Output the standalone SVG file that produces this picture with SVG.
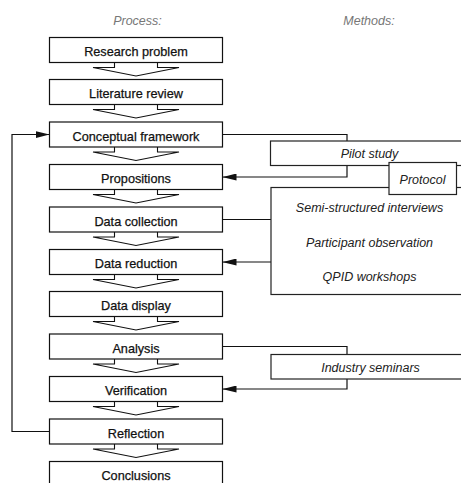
<svg xmlns="http://www.w3.org/2000/svg" width="461" height="483" viewBox="0 0 461 483">
<defs>
<style>
.box{fill:#fff;stroke:#111;stroke-width:1.2}
.mbox{fill:#fff;stroke:#222;stroke-width:1.2}
.t{font-family:"Liberation Sans",Arial,sans-serif;font-size:12.7px;fill:#111;stroke:#111;stroke-width:0.25;text-anchor:middle}
.m{font-family:"Liberation Sans",Arial,sans-serif;font-size:12.5px;font-style:italic;fill:#222;text-anchor:middle}
.h{font-family:"Liberation Sans",Arial,sans-serif;font-size:12.5px;font-style:italic;fill:#777;text-anchor:middle}
.c{fill:none;stroke:#111;stroke-width:1.2}
.fa{fill:none;stroke:#111;stroke-width:1.1;stroke-linejoin:miter}
</style>
<marker id="ah" viewBox="0 0 14 7" refX="14" refY="3.5" markerWidth="14" markerHeight="7" markerUnits="userSpaceOnUse" orient="auto">
<path d="M0,0 L14,3.5 L0,7 Z" fill="#111"/>
</marker>
</defs>
<rect width="461" height="483" fill="#fff"/>
<text class="h" x="137.5" y="25">Process:</text>
<text class="h" x="369" y="25">Methods:</text>

<g id="connectors">
<path class="fa" d="M114.5,62.5 V67.5 H93 L136,76 L179,67.5 H157.5 V62.5"/>
<path class="fa" d="M114.5,104.5 V109.5 H93 L136,118 L179,109.5 H157.5 V104.5"/>
<path class="fa" d="M114.5,147 V152 H93 L136,160.5 L179,152 H157.5 V147"/>
<path class="fa" d="M114.5,189.5 V194.5 H93 L136,203 L179,194.5 H157.5 V189.5"/>
<path class="fa" d="M114.5,232 V237 H93 L136,245.5 L179,237 H157.5 V232"/>
<path class="fa" d="M114.5,274.5 V279.5 H93 L136,288 L179,279.5 H157.5 V274.5"/>
<path class="fa" d="M114.5,316.5 V321.5 H93 L136,330 L179,321.5 H157.5 V316.5"/>
<path class="fa" d="M114.5,359 V364 H93 L136,372.5 L179,364 H157.5 V359"/>
<path class="fa" d="M114.5,401.5 V406.5 H93 L136,415 L179,406.5 H157.5 V401.5"/>
<path class="fa" d="M114.5,444 V449 H93 L136,457.5 L179,449 H157.5 V444"/>
<path class="c" d="M49.5,431.5 H12 V134.5 H49.5" marker-end="url(#ah)"/>
<path class="c" d="M222.5,134.5 H347 V141"/>
<path class="c" d="M347,165.5 V177 H222.5" marker-end="url(#ah)"/>
<path class="c" d="M222.5,219.5 H271"/>
<path class="c" d="M271,262 H222.5" marker-end="url(#ah)"/>
<path class="c" d="M222.5,346.5 H347 V354.5"/>
<path class="c" d="M347,379 V389 H222.5" marker-end="url(#ah)"/>
</g>

<g id="research-problem"><rect class="box" x="49.5" y="37.5" width="173" height="25"/><text class="t" x="136" y="56">Research problem</text></g>
<g id="literature-review"><rect class="box" x="49.5" y="79.5" width="173" height="25"/><text class="t" x="136" y="98">Literature review</text></g>
<g id="conceptual-framework"><rect class="box" x="49.5" y="122" width="173" height="25"/><text class="t" x="136" y="140.5">Conceptual framework</text></g>
<g id="propositions"><rect class="box" x="49.5" y="164.5" width="173" height="25"/><text class="t" x="136" y="183">Propositions</text></g>
<g id="data-collection"><rect class="box" x="49.5" y="207" width="173" height="25"/><text class="t" x="136" y="225.5">Data collection</text></g>
<g id="data-reduction"><rect class="box" x="49.5" y="249.5" width="173" height="25"/><text class="t" x="136" y="268">Data reduction</text></g>
<g id="data-display"><rect class="box" x="49.5" y="291.5" width="173" height="25"/><text class="t" x="136" y="310">Data display</text></g>
<g id="analysis"><rect class="box" x="49.5" y="334" width="173" height="25"/><text class="t" x="136" y="352.5">Analysis</text></g>
<g id="verification"><rect class="box" x="49.5" y="376.5" width="173" height="25"/><text class="t" x="136" y="395">Verification</text></g>
<g id="reflection"><rect class="box" x="49.5" y="419" width="173" height="25"/><text class="t" x="136" y="437.5">Reflection</text></g>
<g id="conclusions"><rect class="box" x="49.5" y="461.5" width="173" height="25"/><text class="t" x="136" y="480">Conclusions</text></g>

<g id="pilot-study"><rect class="mbox" x="270.5" y="141" width="200" height="24.5"/><text class="m" x="369.5" y="158">Pilot study</text></g>
<g id="methods"><rect class="mbox" x="271" y="187.5" width="200" height="107"/>
<text class="m" x="369.5" y="212">Semi-structured interviews</text>
<text class="m" x="369.5" y="246.5">Participant observation</text>
<text class="m" x="369.5" y="281">QPID workshops</text></g>
<g id="protocol"><rect class="mbox" x="389" y="162.5" width="67.5" height="32"/><text class="m" x="422.5" y="183.5">Protocol</text></g>
<g id="industry-seminars"><rect class="mbox" x="271" y="354.5" width="200" height="24.5"/><text class="m" x="370.5" y="372">Industry seminars</text></g>
</svg>
